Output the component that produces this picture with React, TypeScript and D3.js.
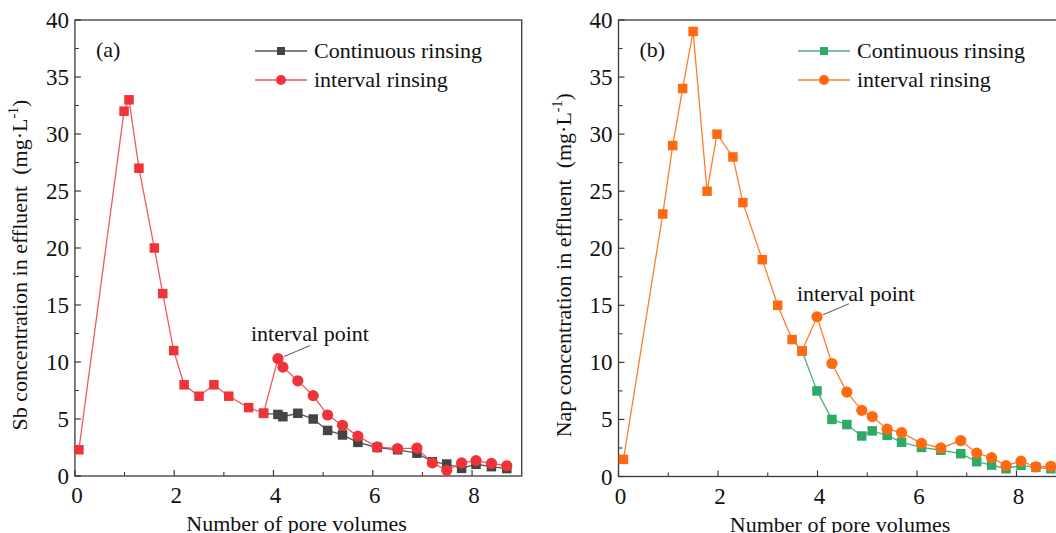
import React from "react";
import * as d3 from "d3";

// ---------- data ----------
const xTicks = [0, 2, 4, 6, 8];
const yTicks = [0, 5, 10, 15, 20, 25, 30, 35, 40];

// Panel (a): Sb
const sbSharedX = [0.08, 0.99, 1.09, 1.29, 1.6, 1.77, 1.99, 2.2, 2.5, 2.8, 3.1, 3.5, 3.8];
const sbSharedY = [2.3, 32.0, 33.0, 27.0, 20.0, 16.0, 11.0, 8.0, 7.0, 8.0, 7.0, 6.0, 5.5];
const sbContX = [3.8, 4.09, 4.19, 4.49, 4.8, 5.09, 5.39, 5.7, 6.09, 6.5, 6.89, 7.2, 7.49, 7.79, 8.08, 8.39, 8.7];
const sbContY = [5.5, 5.4, 5.2, 5.5, 5.0, 4.0, 3.6, 2.95, 2.5, 2.3, 2.0, 1.25, 1.05, 0.67, 1.03, 0.82, 0.65];
const sbIntX = [3.8, 4.09, 4.19, 4.49, 4.8, 5.09, 5.39, 5.7, 6.09, 6.5, 6.89, 7.2, 7.49, 7.79, 8.08, 8.39, 8.7];
const sbIntY = [5.5, 10.3, 9.55, 8.35, 7.05, 5.35, 4.45, 3.5, 2.55, 2.4, 2.45, 1.15, 0.5, 1.15, 1.35, 1.1, 0.9];

// Panel (b): Nap
const napSharedX = [0.1, 0.89, 1.09, 1.29, 1.5, 1.78, 1.98, 2.3, 2.5, 2.89, 3.2, 3.49, 3.69];
const napSharedY = [1.5, 23.0, 29.0, 34.0, 39.0, 25.0, 30.0, 28.0, 24.0, 19.0, 15.0, 12.0, 11.0];
const napContX = [3.69, 3.99, 4.29, 4.59, 4.89, 5.1, 5.4, 5.69, 6.09, 6.48, 6.88, 7.2, 7.5, 7.79, 8.09, 8.39, 8.69];
const napContY = [11.0, 7.5, 5.0, 4.55, 3.55, 4.0, 3.6, 3.0, 2.55, 2.3, 2.0, 1.3, 1.0, 0.68, 0.98, 0.8, 0.68];
const napIntX = [3.69, 3.99, 4.29, 4.59, 4.89, 5.1, 5.4, 5.69, 6.09, 6.48, 6.88, 7.2, 7.5, 7.79, 8.09, 8.39, 8.69];
const napIntY = [11.0, 14.0, 9.9, 7.4, 5.8, 5.25, 4.15, 3.85, 2.9, 2.5, 3.15, 2.05, 1.65, 0.95, 1.35, 0.85, 0.9];

const legendLabels = ["Continuous rinsing", "interval rinsing"];
const xTitle = "Number of pore volumes";

const FONT = "Liberation Serif, Tinos, Times New Roman, DejaVu Serif, serif";
const txt = { fontFamily: FONT };

type P = [number, number];
const zip = (xs: number[], ys: number[]): P[] => xs.map((x, i) => [x, ys[i]]);

interface PanelProps {
  left: number;
  right: number;
  top: number;
  bottom: number;
  label: string;
  yTitle: string;
  sharedX: number[];
  sharedY: number[];
  contX: number[];
  contY: number[];
  intX: number[];
  intY: number[];
  contColor: string;
  contLine: string;
  intColor: string;
  intLine: string;
  annIdx: number;
  annText: { dx: number; dy: number };
  legendX: number;
}

function Square({ x, y, s, fill }: { x: number; y: number; s: number; fill: string }) {
  return <rect x={x - s / 2} y={y - s / 2} width={s} height={s} fill={fill} />;
}

function Panel(p: PanelProps) {
  const x = d3.scaleLinear().domain([0, 9]).range([p.left, p.right]);
  const y = d3.scaleLinear().domain([0, 40]).range([p.bottom, p.top]);
  const line = d3
    .line<P>()
    .x((d) => x(d[0]))
    .y((d) => y(d[1]));
  const shared = zip(p.sharedX, p.sharedY);
  const cont = zip(p.contX, p.contY);
  const intv = zip(p.intX, p.intY);
  const axisColor = "#3a3a3a";
  const minorX = d3.range(1, 9, 2);
  const minorY = d3.range(2.5, 40, 5);
  const ann = intv[p.annIdx];
  const ax = x(ann[0]);
  const ay = y(ann[1]);
  const sq = 9.5;
  const r = 5.6;
  return (
    <g>
      <rect
        x={p.left}
        y={p.top}
        width={p.right - p.left}
        height={p.bottom - p.top}
        fill="none"
        stroke={axisColor}
        strokeWidth={1.3}
      />
      {xTicks.map((t) => (
        <g key={"xt" + t}>
          <line x1={x(t)} x2={x(t)} y1={p.bottom} y2={p.bottom - 6} stroke={axisColor} strokeWidth={1.2} />
          <text x={x(t) + 2} y={p.bottom + 27} textAnchor="middle" fontSize={23} style={txt} fill="#111">
            {t}
          </text>
        </g>
      ))}
      {minorX.map((t) => (
        <line key={"xm" + t} x1={x(t)} x2={x(t)} y1={p.bottom} y2={p.bottom - 4} stroke={axisColor} strokeWidth={1.1} />
      ))}
      {yTicks.map((t) => (
        <g key={"yt" + t}>
          <line x1={p.left} x2={p.left + 6} y1={y(t)} y2={y(t)} stroke={axisColor} strokeWidth={1.2} />
          <text x={p.left - 6} y={y(t) + 8} textAnchor="end" fontSize={23} style={txt} fill="#111">
            {t}
          </text>
        </g>
      ))}
      {minorY.map((t) => (
        <line key={"ym" + t} x1={p.left} x2={p.left + 4} y1={y(t)} y2={y(t)} stroke={axisColor} strokeWidth={1.1} />
      ))}
      <text
        x={(p.left + p.left + 9 * 49.7) / 2 - 2}
        y={p.bottom + 55}
        textAnchor="middle"
        fontSize={22}
        style={txt}
        fill="#111"
      >
        {xTitle}
      </text>
      <text
        transform={`translate(${p.left - 48},${(p.top + p.bottom) / 2 + 17}) rotate(-90)`}
        textAnchor="middle"
        fontSize={22}
        style={txt}
        fill="#111"
      >
        {p.yTitle}
        {"\u00a0\u00a0(mg·L"}
        <tspan dy={-9} fontSize={14}>
          -1
        </tspan>
        <tspan dy={9}>)</tspan>
      </text>
      <text x={p.left + 21} y={p.top + 37} fontSize={22} style={txt} fill="#111">
        {p.label}
      </text>
      <path d={line(cont) || ""} fill="none" stroke={p.contLine} strokeWidth={1.3} />
      {cont.map((d, i) => (
        <Square key={"c" + i} x={x(d[0])} y={y(d[1])} s={sq} fill={p.contColor} />
      ))}
      <path d={line(shared) || ""} fill="none" stroke={p.intLine} strokeWidth={1.3} />
      <path d={line(intv) || ""} fill="none" stroke={p.intLine} strokeWidth={1.3} />
      {intv.slice(1).map((d, i) => (
        <circle key={"i" + i} cx={x(d[0])} cy={y(d[1])} r={r} fill={p.intColor} />
      ))}
      {shared.map((d, i) => (
        <Square key={"s" + i} x={x(d[0])} y={y(d[1])} s={sq} fill={p.intColor} />
      ))}
      <line x1={ax + 6} y1={ay - 2} x2={ax + 32} y2={ay - 13} stroke="#555" strokeWidth={1} />
      <text x={ax + p.annText.dx} y={ay + p.annText.dy} fontSize={22} style={txt} fill="#111">
        interval point
      </text>
      {legendLabels.map((lab, i) => {
        const ly = p.top + 31 + i * 29;
        const c = i === 0 ? p.contColor : p.intColor;
        const lc = i === 0 ? p.contLine : p.intLine;
        return (
          <g key={lab}>
            <line x1={p.legendX} x2={p.legendX + 52} y1={ly} y2={ly} stroke={lc} strokeWidth={1.3} />
            {i === 0 ? (
              <Square x={p.legendX + 26} y={ly} s={8} fill={c} />
            ) : (
              <circle cx={p.legendX + 26} cy={ly} r={5} fill={c} />
            )}
            <text x={p.legendX + 59} y={ly + 7} fontSize={22} style={txt} fill="#111">
              {lab}
            </text>
          </g>
        );
      })}
    </g>
  );
}

export default function App() {
  return (
    <svg
      width={1056}
      height={533}
      style={{ position: "absolute", left: 0, top: 0, background: "#fff" }}
    >
      <rect width={1056} height={533} fill="#fff" />
      <Panel
        left={74.9}
        right={521.7}
        top={20}
        bottom={476}
        label="(a)"
        yTitle="Sb concentration in effluent"
        sharedX={sbSharedX}
        sharedY={sbSharedY}
        contX={sbContX}
        contY={sbContY}
        intX={sbIntX}
        intY={sbIntY}
        contColor="#444444"
        contLine="#555555"
        intColor="#ef3338"
        intLine="#f2575b"
        annIdx={1}
        annText={{ dx: -27, dy: -18 }}
        legendX={255}
      />
      <Panel
        left={618.5}
        right={618.5 + 9 * 49.75}
        top={20}
        bottom={476.5}
        label="(b)"
        yTitle="Nap concentration in effluent"
        sharedX={napSharedX}
        sharedY={napSharedY}
        contX={napContX}
        contY={napContY}
        intX={napIntX}
        intY={napIntY}
        contColor="#2eaa68"
        contLine="#45b57a"
        intColor="#ff6a10"
        intLine="#ff7d30"
        annIdx={1}
        annText={{ dx: -20, dy: -16 }}
        legendX={798}
      />
    </svg>
  );
}
